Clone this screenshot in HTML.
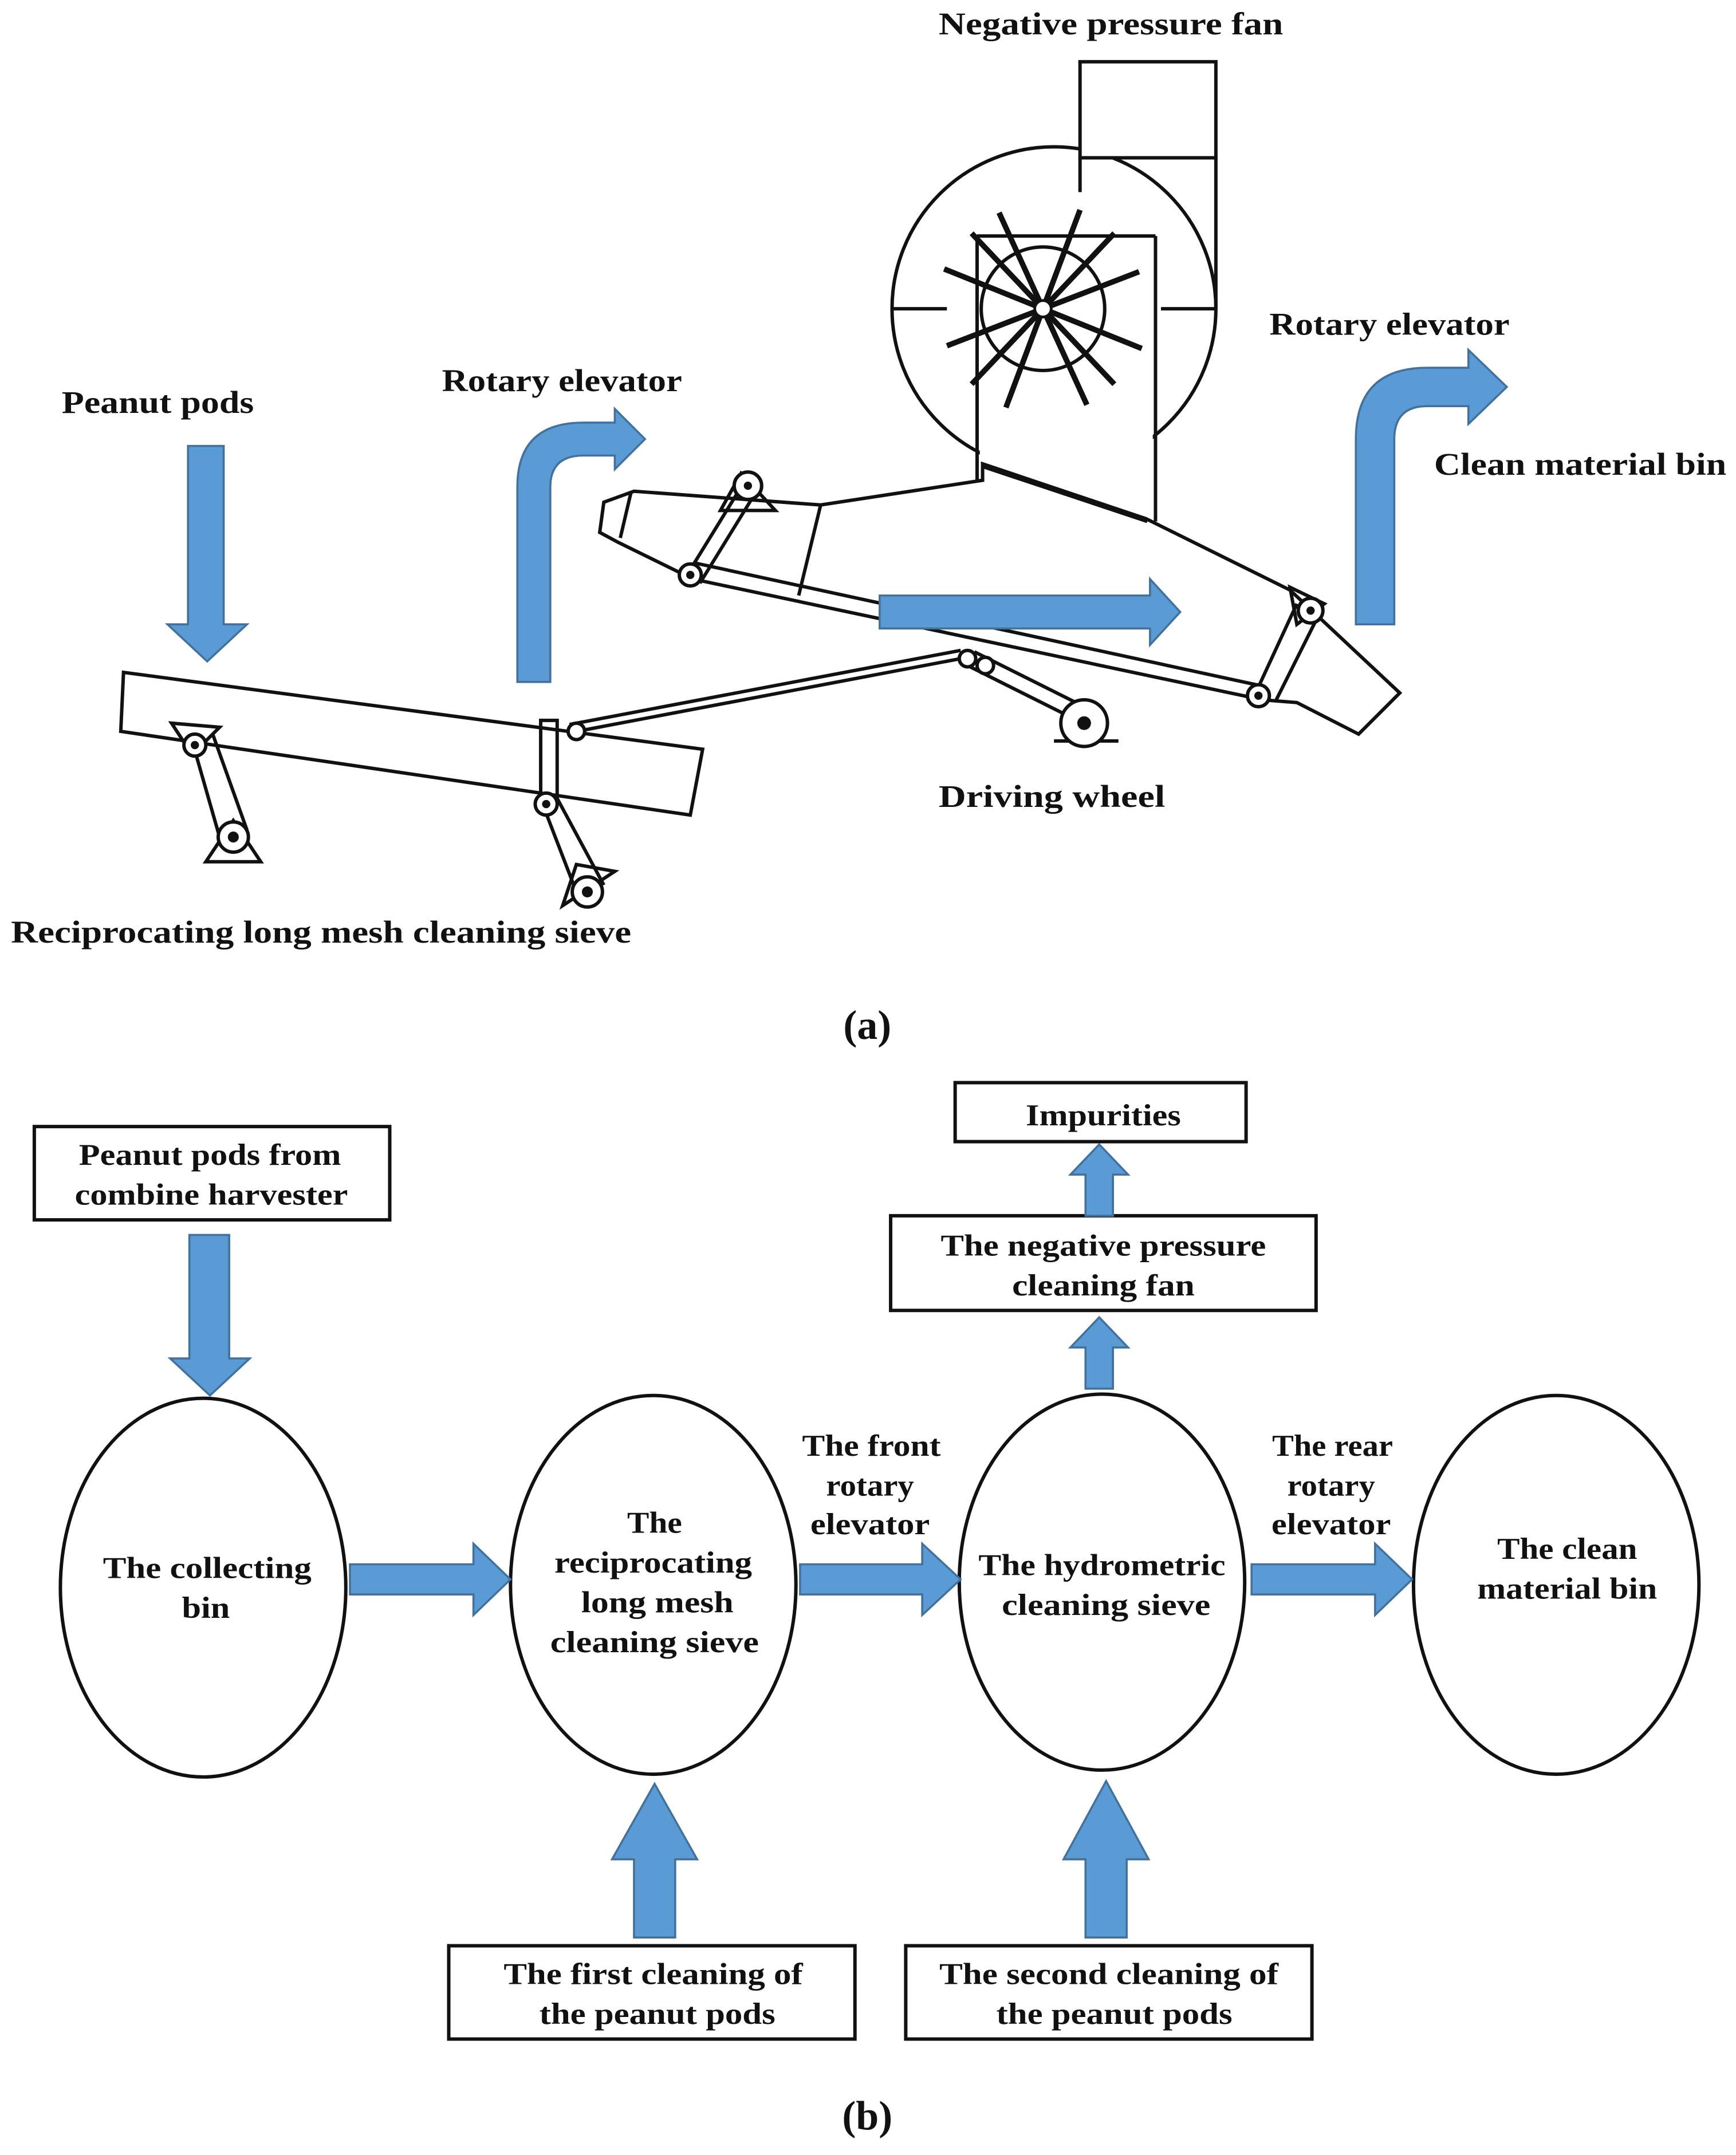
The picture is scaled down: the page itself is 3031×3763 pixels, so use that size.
<!DOCTYPE html>
<html><head><meta charset="utf-8"><style>
html,body{margin:0;padding:0;background:#fff}
svg{display:block}
text{font-family:"Liberation Serif",serif;font-weight:bold;fill:#111}
</style></head><body>
<svg width="3031" height="3763" viewBox="0 0 1265 1570.5" preserveAspectRatio="none" xmlns="http://www.w3.org/2000/svg">
<defs><style>.ar{fill:#5B9BD5;stroke:#41719C;stroke-width:1.5}.ln{fill:none;stroke:#111;stroke-width:2.5}.bx{fill:#fff;stroke:#111;stroke-width:2.5}</style></defs>
<g font-size="23" lengthAdjust="spacingAndGlyphs">
<text x="684" y="25" textLength="251" lengthAdjust="spacingAndGlyphs">Negative pressure fan</text>
<text x="925" y="244" textLength="175" lengthAdjust="spacingAndGlyphs">Rotary elevator</text>
<text x="322" y="285" textLength="175" lengthAdjust="spacingAndGlyphs">Rotary elevator</text>
<text x="45" y="301" textLength="140" lengthAdjust="spacingAndGlyphs">Peanut pods</text>
<text x="1045" y="346" textLength="213" lengthAdjust="spacingAndGlyphs">Clean material bin</text>
<text x="632" y="394" textLength="146" lengthAdjust="spacingAndGlyphs">Hydrometric</text>
<text x="638" y="424" textLength="162" lengthAdjust="spacingAndGlyphs">cleaning sieve</text>
<text x="684" y="588" textLength="165" lengthAdjust="spacingAndGlyphs">Driving wheel</text>
<text x="8" y="687" textLength="452" lengthAdjust="spacingAndGlyphs">Reciprocating long mesh cleaning sieve</text>
</g>
<text x="632" y="757" font-size="30" text-anchor="middle" font-weight="normal">(a)</text>
<text x="632" y="1552" font-size="30" text-anchor="middle" font-weight="normal">(b)</text>
<!-- fan -->
<circle cx="768" cy="225" r="118" class="ln"/>
<rect x="787" y="45" width="99" height="70" class="bx"/>
<line x1="787" y1="115" x2="787" y2="140" class="ln"/><line x1="886" y1="115" x2="886" y2="225" class="ln"/>
<line x1="650" y1="225" x2="690" y2="225" class="ln"/><line x1="846" y1="225" x2="886" y2="225" class="ln"/>
<rect x="714" y="174" width="126" height="174" fill="#fff" stroke="none"/>
<line x1="712" y1="172" x2="842" y2="172" class="ln"/>
<line x1="712" y1="172" x2="712" y2="350" class="ln"/><line x1="842" y1="172" x2="842" y2="380" class="ln"/>
<circle cx="760" cy="225" r="45" class="ln"/>
<g stroke="#111" stroke-width="4">
<line x1="728" y1="155" x2="792" y2="295"/><line x1="787" y1="153" x2="733" y2="297"/>
<line x1="688" y1="196" x2="832" y2="254"/><line x1="690" y1="252" x2="830" y2="198"/>
<line x1="708" y1="170" x2="812" y2="280"/><line x1="812" y1="170" x2="708" y2="280"/>
</g>
<circle cx="760" cy="225" r="6" fill="#fff" stroke="#111" stroke-width="2"/>
<!-- upper sieve -->
<polygon points="437,388 440,366 462,358 598,368 716,350 716,338 835,378 940,430 1020,505 990,535 945,512 920,510 505,422 450,395" class="bx"/>
<line x1="505" y1="410" x2="920" y2="500" class="ln"/>
<line x1="598" y1="368" x2="582" y2="434" class="ln"/>
<line x1="460" y1="358" x2="452" y2="392" class="ln"/>
<line x1="716" y1="340" x2="836" y2="380" class="ln"/>
<!-- lower sieve -->
<polygon points="90,490 512,546 503,594 88,533" class="bx"/>
<!-- links -->
<g class="ln">
<line x1="415" y1="534" x2="700" y2="480"/><line x1="415" y1="528" x2="700" y2="474"/>
<line x1="500" y1="420" x2="540" y2="355"/><line x1="510" y1="425" x2="550" y2="360"/>
<polygon points="525,372 540,345 565,372"/>
<line x1="915" y1="505" x2="945" y2="440"/><line x1="930" y1="510" x2="960" y2="450"/>
<polygon points="940,428 965,440 945,455"/>
<line x1="140" y1="540" x2="160" y2="610"/><line x1="155" y1="535" x2="180" y2="605"/>
<polygon points="125,527 160,530 140,550"/><polygon points="150,628 190,628 170,598"/>
<line x1="395" y1="585" x2="420" y2="650"/><line x1="405" y1="580" x2="440" y2="645"/>
<polygon points="410,660 448,635 420,630"/>
<rect x="394" y="525" width="12" height="60"/>
<line x1="705" y1="485" x2="785" y2="525"/><line x1="710" y1="475" x2="790" y2="515"/>
<line x1="768" y1="540" x2="815" y2="540"/>
</g>
<g fill="#fff" stroke="#111" stroke-width="2.5">
<circle cx="545" cy="354" r="10"/><circle cx="503" cy="419" r="8"/><circle cx="955" cy="445" r="9"/><circle cx="917" cy="507" r="8"/>
<circle cx="142" cy="543" r="8"/><circle cx="170" cy="610" r="11"/><circle cx="398" cy="586" r="8"/><circle cx="428" cy="650" r="11"/>
<circle cx="420" cy="533" r="6"/><circle cx="705" cy="480" r="6"/><circle cx="718" cy="485" r="6"/><circle cx="790" cy="527" r="17"/>
</g>
<g fill="#111"><circle cx="545" cy="354" r="3"/><circle cx="503" cy="419" r="3"/><circle cx="955" cy="445" r="3"/><circle cx="917" cy="507" r="3"/><circle cx="142" cy="543" r="3"/><circle cx="170" cy="610" r="4"/><circle cx="398" cy="586" r="3"/><circle cx="428" cy="650" r="4"/><circle cx="790" cy="527" r="5"/></g>
<!-- blue arrows (a) -->
<polygon class="ar" points="137,325 163,325 163,455 180,455 151,482 122,455 137,455"/>
<path class="ar" d="M377,497 L377,355 Q377,308 425,308 L448,308 L448,298 L470,320 L448,342 L448,332 L425,332 Q401,332 401,355 L401,497 Z"/>
<path class="ar" d="M988,455 L988,320 Q988,268 1040,268 L1070,268 L1070,255 L1098,282 L1070,309 L1070,296 L1040,296 Q1016,296 1016,320 L1016,455 Z"/>
<polygon class="ar" points="641,434 838,434 838,422 860,446 838,470 838,458 641,458"/>
<!-- (b) -->
<g class="bx">
<ellipse cx="148" cy="1157" rx="104" ry="138"/><ellipse cx="476" cy="1155" rx="104" ry="138"/>
<ellipse cx="803" cy="1153" rx="104" ry="137"/><ellipse cx="1134" cy="1155" rx="104" ry="138"/>
<rect x="25" y="821" width="259" height="68"/><rect x="696" y="789" width="212" height="43"/>
<rect x="649" y="886" width="310" height="69"/><rect x="327" y="1418" width="296" height="68"/><rect x="660" y="1418" width="296" height="68"/>
</g>
<polygon class="ar" points="138,900 167,900 167,990 182,990 153,1017 124,990 138,990"/>
<polygon class="ar" points="255,1140 345,1140 345,1125 372,1151 345,1177 345,1162 255,1162"/>
<polygon class="ar" points="583,1140 672,1140 672,1125 700,1151 672,1177 672,1162 583,1162"/>
<polygon class="ar" points="912,1140 1002,1140 1002,1125 1029,1151 1002,1177 1002,1162 912,1162"/>
<polygon class="ar" points="791,1012 811,1012 811,982 822,982 801,960 780,982 791,982"/>
<polygon class="ar" points="791,886 811,886 811,856 822,856 801,834 780,856 791,856"/>
<polygon class="ar" points="462,1412 492,1412 492,1355 508,1355 477,1300 446,1355 462,1355"/>
<polygon class="ar" points="791,1412 821,1412 821,1355 837,1355 806,1298 775,1355 791,1355"/>
<g font-size="22" text-anchor="middle">
<text x="153" y="849" textLength="191" lengthAdjust="spacingAndGlyphs">Peanut pods from</text><text x="154" y="878" textLength="199" lengthAdjust="spacingAndGlyphs">combine harvester</text>
<text x="804" y="820" textLength="113" lengthAdjust="spacingAndGlyphs">Impurities</text>
<text x="804" y="915" textLength="237" lengthAdjust="spacingAndGlyphs">The negative pressure</text><text x="804" y="944" textLength="133" lengthAdjust="spacingAndGlyphs">cleaning fan</text>
<text x="151" y="1150" textLength="152" lengthAdjust="spacingAndGlyphs">The collecting</text><text x="150" y="1179" textLength="35" lengthAdjust="spacingAndGlyphs">bin</text>
<text x="477" y="1117" textLength="40" lengthAdjust="spacingAndGlyphs">The</text><text x="476" y="1146" textLength="144" lengthAdjust="spacingAndGlyphs">reciprocating</text><text x="479" y="1175" textLength="111" lengthAdjust="spacingAndGlyphs">long mesh</text><text x="477" y="1204" textLength="152" lengthAdjust="spacingAndGlyphs">cleaning sieve</text>
<text x="635" y="1061" textLength="101" lengthAdjust="spacingAndGlyphs">The front</text><text x="634" y="1090" textLength="64" lengthAdjust="spacingAndGlyphs">rotary</text><text x="634" y="1118" textLength="87" lengthAdjust="spacingAndGlyphs">elevator</text>
<text x="803" y="1148" textLength="180" lengthAdjust="spacingAndGlyphs">The hydrometric</text><text x="806" y="1177" textLength="152" lengthAdjust="spacingAndGlyphs">cleaning sieve</text>
<text x="971" y="1061" textLength="88" lengthAdjust="spacingAndGlyphs">The rear</text><text x="970" y="1090" textLength="64" lengthAdjust="spacingAndGlyphs">rotary</text><text x="970" y="1118" textLength="87" lengthAdjust="spacingAndGlyphs">elevator</text>
<text x="1142" y="1136" textLength="102" lengthAdjust="spacingAndGlyphs">The clean</text><text x="1142" y="1165" textLength="131" lengthAdjust="spacingAndGlyphs">material bin</text>
<text x="476" y="1446" textLength="218" lengthAdjust="spacingAndGlyphs">The first cleaning of</text><text x="479" y="1475" textLength="172" lengthAdjust="spacingAndGlyphs">the peanut pods</text>
<text x="808" y="1446" textLength="247" lengthAdjust="spacingAndGlyphs">The second cleaning of</text><text x="812" y="1475" textLength="172" lengthAdjust="spacingAndGlyphs">the peanut pods</text>
</g>
</svg>
</body></html>
